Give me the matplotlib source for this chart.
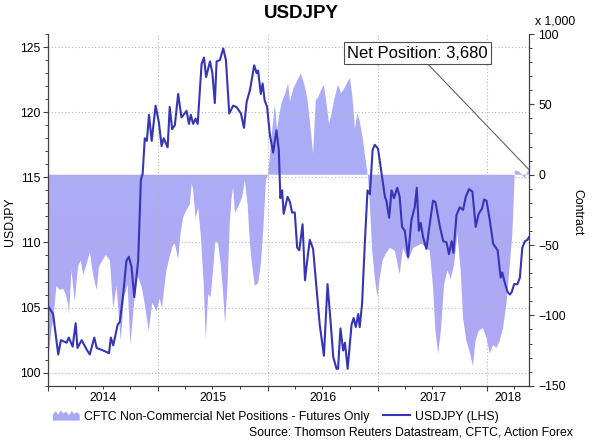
import matplotlib
matplotlib.use("Agg")
import matplotlib.pyplot as plt
import matplotlib.dates as mdates
from matplotlib.ticker import MultipleLocator, NullFormatter
from matplotlib.colors import LinearSegmentedColormap
from matplotlib.legend_handler import HandlerBase
from matplotlib.patches import Polygon, Patch
from matplotlib.lines import Line2D
import numpy as np
import pandas as pd

plt.rcParams['font.family'] = ['Liberation Sans', 'DejaVu Sans']

# USDJPY spot (left axis)
fx_dates = [
    '2014-01-01', '2014-01-17', '2014-02-03', '2014-02-12', '2014-03-03', '2014-03-10',
    '2014-03-23', '2014-04-02', '2014-04-08', '2014-04-22', '2014-05-08', '2014-05-19',
    '2014-06-03', '2014-06-11', '2014-07-03', '2014-07-22', '2014-07-28', '2014-08-05',
    '2014-08-20', '2014-08-27', '2014-09-07', '2014-09-18', '2014-09-26', '2014-10-05',
    '2014-10-14', '2014-10-27', '2014-11-05', '2014-11-11', '2014-11-18', '2014-11-25',
    '2014-12-02', '2014-12-11', '2014-12-24', '2015-01-04', '2015-01-13', '2015-01-20',
    '2015-02-02', '2015-02-09', '2015-02-17', '2015-02-26', '2015-03-09', '2015-03-20',
    '2015-04-06', '2015-04-14', '2015-04-20', '2015-04-28', '2015-05-06', '2015-05-13',
    '2015-05-26', '2015-06-03', '2015-06-10', '2015-06-23', '2015-07-01', '2015-07-09',
    '2015-07-15', '2015-07-26', '2015-08-06', '2015-08-15', '2015-08-26', '2015-09-08',
    '2015-09-19', '2015-10-04', '2015-10-14', '2015-10-23', '2015-11-03', '2015-11-17',
    '2015-11-25', '2015-11-30', '2015-12-09', '2015-12-15', '2015-12-22', '2015-12-30',
    '2016-01-08', '2016-01-19', '2016-01-30', '2016-02-07', '2016-02-12', '2016-02-18',
    '2016-02-23', '2016-03-07', '2016-03-15', '2016-03-22', '2016-03-31', '2016-04-08',
    '2016-04-15', '2016-04-26', '2016-05-04', '2016-05-13', '2016-05-20', '2016-05-31',
    '2016-06-11', '2016-06-22', '2016-07-06', '2016-07-18', '2016-07-29', '2016-08-06',
    '2016-08-17', '2016-08-22', '2016-08-30', '2016-09-08', '2016-09-14', '2016-09-23',
    '2016-10-06', '2016-10-13', '2016-10-20', '2016-10-28', '2016-11-02', '2016-11-10',
    '2016-11-19', '2016-11-28', '2016-12-06', '2016-12-15', '2016-12-22', '2017-01-02',
    '2017-01-14', '2017-01-25', '2017-01-30', '2017-02-08', '2017-02-16', '2017-02-24',
    '2017-03-07', '2017-03-15', '2017-03-23', '2017-04-01', '2017-04-12', '2017-04-23',
    '2017-05-04', '2017-05-11', '2017-05-18', '2017-05-24', '2017-06-01', '2017-06-12',
    '2017-06-23', '2017-07-04', '2017-07-12', '2017-07-27', '2017-08-07', '2017-08-18',
    '2017-08-26', '2017-09-04', '2017-09-10', '2017-09-20', '2017-10-01', '2017-10-12',
    '2017-10-21', '2017-11-01', '2017-11-12', '2017-11-23', '2017-12-03', '2017-12-14',
    '2017-12-21', '2017-12-29', '2018-01-09', '2018-01-20', '2018-02-04', '2018-02-14',
    '2018-02-19', '2018-02-28', '2018-03-09', '2018-03-17', '2018-03-23', '2018-03-31',
    '2018-04-11', '2018-04-19', '2018-04-27', '2018-05-06', '2018-05-14', '2018-05-19',
]
fx_close = [
    105.1, 104.5, 101.4, 102.5, 102.3, 102.7,
    102.0, 103.8, 101.9, 102.5, 101.8, 101.4,
    102.7, 101.9, 101.7, 101.5, 102.7, 102.1,
    103.7, 103.9, 106.0, 108.6, 108.9, 108.1,
    105.8, 108.6, 114.8, 115.3, 118.0, 117.8,
    119.8, 117.8, 120.5, 119.2, 117.4, 118.0,
    117.3, 120.4, 118.7, 119.0, 121.4, 119.6,
    120.1, 119.1, 119.8, 119.1, 119.5, 119.1,
    123.7, 124.2, 122.7, 123.9, 123.0, 120.7,
    123.9, 124.0, 124.9, 124.0, 119.9, 120.5,
    120.4, 119.9, 118.8, 120.8, 121.7, 123.6,
    123.0, 123.2, 121.4, 122.2, 120.9, 120.4,
    118.3, 116.9, 118.6, 117.1, 113.4, 114.0,
    112.2, 113.5, 113.1, 112.3, 112.3, 109.6,
    109.4, 111.4, 107.1, 108.9, 110.2, 109.5,
    106.6, 103.7, 101.3, 106.8, 103.7, 101.2,
    100.3, 100.3, 103.4, 101.7, 102.3, 100.3,
    103.7, 104.2, 103.5, 104.5, 103.5, 105.3,
    109.9, 114.0, 113.7, 117.1, 117.5, 117.2,
    115.3, 113.5, 113.2, 111.9, 114.0, 113.4,
    114.2, 113.5, 111.2, 110.9, 108.9, 111.7,
    112.7, 114.2, 110.9, 111.5, 110.4, 109.5,
    111.4, 113.2, 113.1, 111.2, 110.1, 110.0,
    109.1, 110.1, 109.2, 112.1, 112.7, 112.5,
    113.5, 114.1, 113.9, 111.2, 112.2, 112.6,
    113.3, 113.2, 111.7, 109.9, 109.4, 107.3,
    107.7, 106.9, 106.2, 106.0, 106.2, 106.8,
    106.8, 107.3, 109.6, 110.1, 110.2, 110.4,
]

# CFTC non-commercial net positions, thousands of contracts (right axis)
cot_dates = [
    '2014-01-01', '2014-01-12', '2014-01-17', '2014-01-28', '2014-02-09', '2014-02-19',
    '2014-02-28', '2014-03-08', '2014-03-11', '2014-03-19', '2014-03-30', '2014-04-10',
    '2014-04-19', '2014-04-27', '2014-05-08', '2014-05-19', '2014-05-30', '2014-06-11',
    '2014-06-18', '2014-06-27', '2014-07-11', '2014-07-25', '2014-08-05', '2014-08-16',
    '2014-08-30', '2014-09-10', '2014-09-22', '2014-10-01', '2014-10-14', '2014-10-26',
    '2014-11-08', '2014-11-18', '2014-12-01', '2014-12-13', '2014-12-27', '2015-01-07',
    '2015-01-14', '2015-01-29', '2015-02-09', '2015-02-20', '2015-02-26', '2015-03-09',
    '2015-03-18', '2015-03-26', '2015-04-06', '2015-04-17', '2015-04-23', '2015-04-28',
    '2015-05-06', '2015-05-15', '2015-05-24', '2015-06-02', '2015-06-09', '2015-06-17',
    '2015-06-25', '2015-07-03', '2015-07-11', '2015-07-20', '2015-07-29', '2015-08-06',
    '2015-08-12', '2015-08-20', '2015-08-28', '2015-09-03', '2015-09-08', '2015-09-14',
    '2015-09-25', '2015-10-08', '2015-10-17', '2015-10-26', '2015-11-03', '2015-11-10',
    '2015-11-19', '2015-11-30', '2015-12-09', '2015-12-17', '2015-12-26', '2016-01-02',
    '2016-01-08', '2016-01-16', '2016-01-25', '2016-02-01', '2016-02-08', '2016-02-16',
    '2016-02-27', '2016-03-09', '2016-03-15', '2016-03-26', '2016-04-08', '2016-04-20',
    '2016-05-01', '2016-05-12', '2016-05-23', '2016-05-31', '2016-06-09', '2016-06-17',
    '2016-06-26', '2016-07-06', '2016-07-15', '2016-07-23', '2016-08-01', '2016-08-11',
    '2016-08-22', '2016-09-01', '2016-09-11', '2016-09-23', '2016-10-01', '2016-10-09',
    '2016-10-17', '2016-10-26', '2016-11-02', '2016-11-12', '2016-11-22', '2016-11-29',
    '2016-12-06', '2016-12-13', '2016-12-22', '2016-12-31', '2017-01-08', '2017-01-17',
    '2017-01-28', '2017-02-10', '2017-02-27', '2017-03-15', '2017-03-26', '2017-04-12',
    '2017-04-29', '2017-05-27', '2017-06-23', '2017-07-04', '2017-07-12', '2017-07-21',
    '2017-07-30', '2017-08-10', '2017-08-21', '2017-09-01', '2017-09-12', '2017-09-23',
    '2017-10-04', '2017-10-12', '2017-10-23', '2017-11-03', '2017-11-14', '2017-11-22',
    '2017-12-03', '2017-12-17', '2017-12-29', '2018-01-09', '2018-01-20', '2018-01-31',
    '2018-02-11', '2018-02-22', '2018-03-05', '2018-03-16', '2018-03-25', '2018-03-30',
    '2018-04-02', '2018-04-13', '2018-04-24', '2018-05-05', '2018-05-11', '2018-05-19',
]
cot_net = [
    -132, -109, -104, -79, -82, -81,
    -85, -92, -99, -68, -90, -65,
    -61, -71, -64, -55, -71, -82,
    -66, -62, -57, -61, -95, -79,
    -118, -87, -78, -121, -90, -72,
    -80, -92, -111, -91, -97, -88,
    -95, -68, -58, -50, -49, -60,
    -40, -30, -25, -21, -6, -11,
    -31, -23, -45, -78, -117, -85,
    -87, -68, -47, -49, -64, -85,
    -106, -80, -33, -16, -9, -27,
    -23, -16, -4, -21, -49, -64,
    -79, -77, -64, -40, -4, 0,
    13, 32, 50, 32, 42, 51,
    57, 65, 52, 61, 67, 72,
    65, 54, 32, 15, 53, 55,
    60, 64, 50, 36, 44, 55,
    64, 58, 61, 66, 69, 55,
    33, 44, 38, 26, 10, 0,
    -21, -52, -73, -87, -73, -61,
    -56, -52, -54, -71, -52, -61,
    -52, -49, -54, -80, -111, -127,
    -111, -78, -68, -74, -64, -42,
    -68, -102, -118, -126, -136, -118,
    -111, -109, -116, -127, -121, -123,
    -118, -109, -92, -65, -42, -15,
    3, 2.6, 0.7, -2.5, 0.7, 3.68,
]

x_start, x_end = '2014-01-01', '2018-05-20'
year_labels = ['2014', '2015', '2016', '2017', '2018']

fx_d = pd.to_datetime(fx_dates)
cot_d = mdates.date2num(pd.to_datetime(cot_dates))
xmin = mdates.date2num(pd.Timestamp(x_start))
xmax = mdates.date2num(pd.Timestamp(x_end))

line_col = '#3535b6'
area_col = '#aaa9f6'
axis_col = '#404040'
grid_col = '#b4b4b4'
fs = 8.8


class AreaHandler(HandlerBase):
    # small jagged area glyph for the legend
    def create_artists(self, legend, orig_handle, xdescent, ydescent,
                       width, height, fontsize, trans):
        prof = [0.55, 0.95, 0.6, 1.0, 0.7, 0.9, 0.5, 0.95, 0.65, 0.85, 0.6]
        xs = np.linspace(0, width, len(prof)) - xdescent
        verts = [(-xdescent, -ydescent)]
        verts += [(x, -ydescent + p * height) for x, p in zip(xs, prof)]
        verts += [(width - xdescent, -ydescent)]
        poly = Polygon(verts, closed=True, fc=orig_handle.get_facecolor(),
                       ec='none', transform=trans)
        return [poly]


fig = plt.figure(figsize=(6, 4.48), dpi=100)
ax1 = fig.add_axes([0.0805, 0.139, 0.8015, 0.785])
ax2 = ax1.twinx()
ax1.set_zorder(ax2.get_zorder() + 1)
ax1.patch.set_visible(False)

# net positions area, light gradient fill
area = ax2.fill_between(cot_d, 0, cot_net, facecolor='none', edgecolor='none')
cmap = LinearSegmentedColormap.from_list('cot', ['#a8aff8', '#b0a7f4'])
grad = np.linspace(0, 1, 256).reshape(-1, 1)
im = ax2.imshow(grad, cmap=cmap, aspect='auto', extent=[xmin, xmax, -150, 100],
                origin='upper', interpolation='bilinear', zorder=1)
im.set_clip_path(area.get_paths()[0], transform=ax2.transData)

ax1.plot(fx_d, fx_close, color=line_col, lw=1.5, zorder=3)

ax1.set_xlim(xmin, xmax)
ax2.set_xlim(xmin, xmax)
ax1.set_ylim(99, 126)
ax2.set_ylim(-150, 100)

ax1.yaxis.set_major_locator(MultipleLocator(5))
ax1.yaxis.set_minor_locator(MultipleLocator(1))
ax2.yaxis.set_major_locator(MultipleLocator(50))
ax2.yaxis.set_minor_locator(MultipleLocator(10))
ax1.xaxis.set_major_locator(mdates.YearLocator())
ax1.xaxis.set_minor_locator(mdates.MonthLocator(bymonth=[4, 7, 10]))
ax1.xaxis.set_major_formatter(NullFormatter())

for ax in (ax1, ax2):
    ax.tick_params(which='major', direction='out', length=3.5, width=0.8,
                   color=axis_col, labelsize=fs, labelcolor='black')
    ax.tick_params(which='minor', direction='out', length=2, width=0.7, color=axis_col)
    for s in ax.spines.values():
        s.set_color(axis_col)
        s.set_linewidth(0.9)
ax1.tick_params(axis='y', pad=2)
ax2.tick_params(axis='y', pad=3)
ax1.spines['top'].set_visible(False)
ax1.spines['right'].set_visible(False)
ax2.spines['top'].set_visible(False)
ax2.spines['left'].set_visible(False)
ax2.spines['bottom'].set_visible(False)

ax1.grid(True, which='major', color=grid_col, lw=0.8, linestyle=(0, (1, 2)))

# year labels centred on the visible part of each year
for yl in year_labels:
    a = max(mdates.date2num(pd.Timestamp(yl + '-01-01')), xmin)
    b = min(mdates.date2num(pd.Timestamp(str(int(yl) + 1) + '-01-01')), xmax)
    ax1.text((a + b) / 2, -0.035, yl, transform=ax1.get_xaxis_transform(),
             ha='center', va='center', fontsize=fs)

# annotation of latest net position
ax1.annotate(f'Net Position: {cot_net[-1] * 1000:,.0f}',
             xy=(cot_d[-1], cot_net[-1]), xycoords=ax2.transData,
             xytext=(0.696, 0.881), textcoords='figure fraction',
             ha='center', va='center', fontsize=12, zorder=10,
             annotation_clip=False,
             bbox=dict(boxstyle='square,pad=0.2', fc='white', ec='#505050', lw=0.8),
             arrowprops=dict(arrowstyle='-', color='#505050', lw=0.7,
                             shrinkA=0, shrinkB=0))

fig.text(0.502, 0.969, 'USDJPY', ha='center', va='center', fontsize=13.5, fontweight='bold')
fig.text(0.892, 0.9516, 'x 1,000', ha='left', va='center', fontsize=fs)
fig.text(0.017, 0.504, 'USDJPY', ha='center', va='center', rotation=90, fontsize=fs)
fig.text(0.963, 0.527, 'Contract', ha='center', va='center', rotation=270, fontsize=fs)

handles = [Patch(facecolor=area_col), Line2D([], [], color=line_col, lw=1.5)]
labels = ['CFTC Non-Commercial Net Positions - Futures Only', 'USDJPY (LHS)']
fig.legend(handles, labels, loc='center left', bbox_to_anchor=(0.088, 0.07),
           ncol=2, frameon=False, fontsize=fs, handlelength=2.2, handleheight=0.9,
           handletextpad=0.35, columnspacing=1.15, borderpad=0, borderaxespad=0,
           handler_map={Patch: AreaHandler()})

fig.text(0.955, 0.0335, 'Source: Thomson Reuters Datastream, CFTC, Action Forex',
         ha='right', va='center', fontsize=fs)

fig.savefig('out.png', dpi=100)
